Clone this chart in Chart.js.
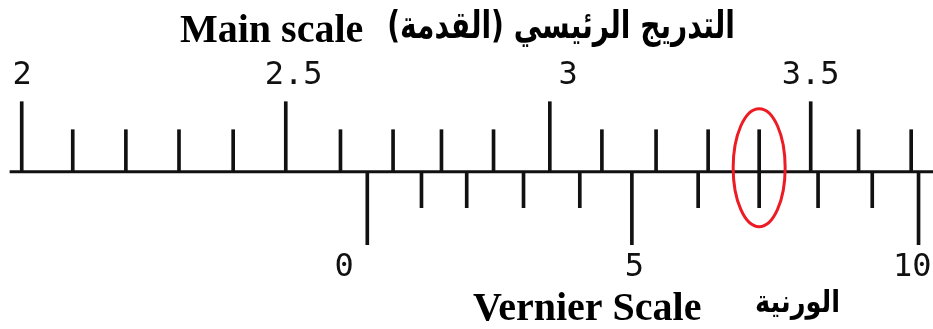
<!DOCTYPE html>
<html>
<head>
<meta charset="utf-8">
<script src="https://cdn.jsdelivr.net/npm/chart.js@4"></script>
<style>
  body { margin: 0; background: #fff; }
  #wrap { width: 933px; height: 329px; position: relative; }
</style>
</head>
<body>
<div id="wrap"><canvas id="vernier"></canvas></div>
<script>
// main scale graduations (cm)
const mainTicks = [2.000, 2.097, 2.198, 2.299, 2.402, 2.502, 2.606, 2.706, 2.798, 2.897,
                   3.004, 3.103, 3.206, 3.305, 3.402, 3.500, 3.591, 3.691];
const mainLabels = ['2', '2.5', '3', '3.5'];
const mainLabelAt = [2.001, 2.517, 3.039, 3.500];

// vernier graduations, 0 to 10, placed against the main scale
const vernierTicks = [2.657, 2.760, 2.846, 2.954, 3.061, 3.160, 3.286, 3.402, 3.514, 3.617, 3.705];
const vernierLabels = ['0', '5', '10'];
const vernierLabelAt = [2.613, 3.165, 3.693];
const matchIndex = 7; // line that coincides with the main scale

const baseLine = [1.977, 3.74];

// tick lengths (same units as the y axis, ~px)
const LONG_UP = 70, SHORT_UP = 42, LONG_DOWN = 73, SHORT_DOWN = 36;

const mainData = mainTicks.map((v, i) => ({ x: v, y: [0, i % 5 === 0 ? LONG_UP : SHORT_UP] }));
const vernierData = vernierTicks.map((v, i) => ({ x: v, y: [i % 5 === 0 ? -LONG_DOWN : -SHORT_DOWN, 0] }));

// arabic text, fitted to a width and stretched a bit in height
function arabicText(ctx, txt, right, base, width, maxSize, stretch) {
    ctx.save();
    ctx.direction = 'rtl';
    ctx.textAlign = 'right';
    ctx.font = 'bold 30px "DejaVu Sans", sans-serif';
    const size = Math.min(maxSize, 30 * width / ctx.measureText(txt).width);
    ctx.font = 'bold ' + size.toFixed(1) + 'px "DejaVu Sans", sans-serif';
    ctx.translate(right, base);
    ctx.scale(1, stretch);
    ctx.fillText(txt, 0, 0);
    ctx.restore();
}

const textPlugin = {
    id: 'textPlugin',
    afterDatasetsDraw(chart) {
        const ctx = chart.ctx;
        const xs = chart.scales.x, ys = chart.scales.y;
        ctx.save();
        ctx.fillStyle = '#111';
        ctx.textAlign = 'center';
        ctx.textBaseline = 'middle';
        ctx.font = '32px "DejaVu Sans Mono", monospace';
        mainLabels.forEach((t, i) => ctx.fillText(t, xs.getPixelForValue(mainLabelAt[i]), ys.getPixelForValue(96)));
        vernierLabels.forEach((t, i) => ctx.fillText(t, xs.getPixelForValue(vernierLabelAt[i]), ys.getPixelForValue(-96)));

        // titles
        ctx.fillStyle = '#000';
        ctx.textBaseline = 'alphabetic';
        ctx.textAlign = 'left';
        ctx.font = 'bold 40px "Liberation Serif", serif';
        ctx.fillText('Main scale', 180, 42);
        ctx.fillText('Vernier Scale', 473, 320);

        arabicText(ctx, 'التدريج الرئيسي (القدمة)', 735, 38, 348, 40, 1.35);
        arabicText(ctx, 'الورنية', 840, 312, 85, 30, 1.2);

        // red ring round the coinciding line
        ctx.strokeStyle = '#ed1c24';
        ctx.lineWidth = 3;
        ctx.beginPath();
        ctx.ellipse(xs.getPixelForValue(vernierTicks[matchIndex]), ys.getPixelForValue(4), 26, 59, 0, 0, Math.PI * 2);
        ctx.stroke();
        ctx.restore();
    }
};

new Chart(document.getElementById('vernier'), {
    type: 'bar',
    data: {
        datasets: [
            {
                label: 'main',
                data: mainData,
                backgroundColor: '#111',
                barThickness: 3,
                grouped: false,
                borderSkipped: false
            },
            {
                label: 'vernier',
                data: vernierData,
                backgroundColor: '#111',
                barThickness: 3,
                grouped: false,
                borderSkipped: false
            },
            {
                type: 'line',
                label: 'base',
                data: baseLine.map(v => ({ x: v, y: 0 })),
                borderColor: '#111',
                borderWidth: 3,
                pointRadius: 0,
                fill: false
            }
        ]
    },
    options: {
        responsive: true,
        maintainAspectRatio: false,
        animation: false,
        layout: { padding: 0 },
        plugins: { legend: { display: false }, tooltip: { enabled: false } },
        scales: {
            x: { type: 'linear', min: 1.9587, max: 3.7325, offset: false, display: false },
            y: { min: -157.3, max: 171.7, display: false }
        }
    },
    plugins: [textPlugin]
});
</script>
</body>
</html>
